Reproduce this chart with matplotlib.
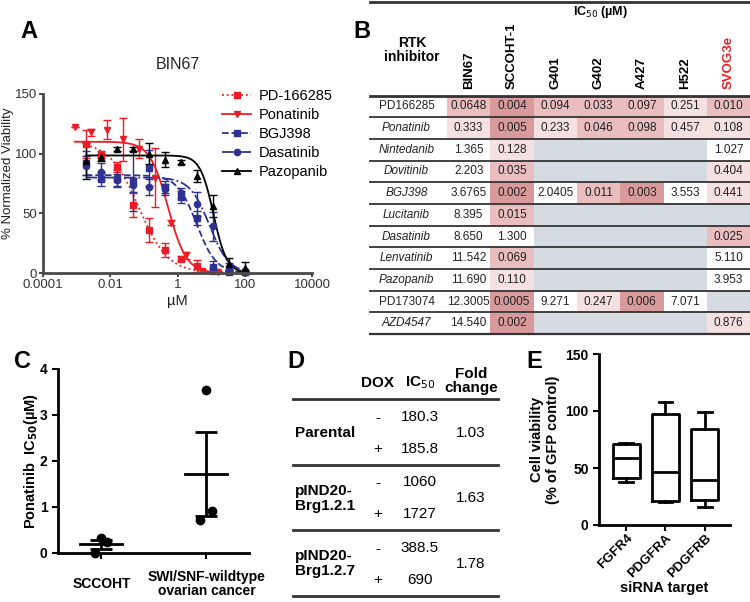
import numpy as np
import matplotlib
matplotlib.use("Agg")
import matplotlib.pyplot as plt
from matplotlib.patches import Rectangle

plt.rcParams['font.family'] = ['Liberation Sans', 'DejaVu Sans']

W, H = 750, 602
RED = '#ed1c24'
BLUE = '#2e3192'

# ---------------- data ----------------
# panel A: dose response in BIN67
conc = [0.00186, 0.00537, 0.0158, 0.0479, 0.141, 0.417, 1.23, 3.8, 11.2, 33.1, 100]
conc_pon = [0.00089, 0.0027, 0.0079, 0.024, 0.071, 0.21, 0.63, 1.8, 5.5, 15.8]

pd166285 = [108, 99, 89, 57, 36, 19, 12, 6, 2, 1.5, 1]
pd166285_err = [12, 3, 4, 10, 10, 6, 2, 5, 2, 1, 1]
ponatinib = [122, 118, 120, 112, 104, 80, 42, 15, 2, 1]
ponatinib_err = [0, 3, 8, 18, 8, 25, 2, 3, 1, 1]
bgj398 = [92, 79, 79, 77, 88, 72, 64, 46, 5, 0.5, 1]
bgj398_err = [10, 6, 7, 25, 15, 5, 5, 6, 5, 1, 1]
dasatinib = [90, 85, 78, 74, 72, 70, 67, 58, 39, 5, 1]
dasatinib_err = [8, 7, 5, 6, 7, 5, 4, 10, 12, 3, 1]
pazopanib = [94, 97, 104, 104, 100, 95, 93, 81, 56, 7.5, 4]
pazopanib_err = [15, 3, 2, 2, 9, 6, 2, 5, 9, 5, 5]

# 4-parameter fit (top, log10 IC50, hill) used for the fitted curves
fit_pd166285 = (110, -1.15, 1.0)
fit_ponatinib = (110, -0.28, 1.6)
fit_bgj398 = (82, 0.57, 1.5)
fit_dasatinib = (80, 0.95, 1.5)
fit_pazopanib = (98.5, 1.07, 2.2)

# panel B: IC50 table (None = not tested)
cell_lines = ['BIN67', 'SCCOHT-1', 'G401', 'G402', 'A427', 'H522', 'SVOG3e']
inhibitors = ['PD166285', 'Ponatinib', 'Nintedanib', 'Dovitinib', 'BGJ398', 'Lucitanib',
              'Dasatinib', 'Lenvatinib', 'Pazopanib', 'PD173074', 'AZD4547']
italic_rows = [False, True, True, True, True, True, True, True, True, False, True]
ic50_table = [
    ['0.0648', '0.004', '0.094', '0.033', '0.097', '0.251', '0.010'],
    ['0.333', '0.005', '0.233', '0.046', '0.098', '0.457', '0.108'],
    ['1.365', '0.128', None, None, None, None, '1.027'],
    ['2.203', '0.035', None, None, None, None, '0.404'],
    ['3.6765', '0.002', '2.0405', '0.011', '0.003', '3.553', '0.441'],
    ['8.395', '0.015', None, None, None, None, None],
    ['8.650', '1.300', None, None, None, None, '0.025'],
    ['11.542', '0.069', None, None, None, None, '5.110'],
    ['11.690', '0.110', None, None, None, None, '3.953'],
    ['12.3005', '0.0005', '9.271', '0.247', '0.006', '7.071', None],
    ['14.540', '0.002', None, None, None, None, '0.876'],
]

# panel C
groups_c = ['SCCOHT', 'SWI/SNF-wildtype\novarian cancer']
sccoht_ic50 = [0.33, 0.23, 0.01]
wildtype_ic50 = [3.54, 0.91, 0.72]

# panel D
d_lines = ['Parental', 'pIND20-\nBrg1.2.1', 'pIND20-\nBrg1.2.7']
d_minus = ['180.3', '1060', '388.5']
d_plus = ['185.8', '1727', '690']
d_fold = ['1.03', '1.63', '1.78']

# panel E: box stats (min, q1, median, q3, max)
targets = ['FGFR4', 'PDGFRA', 'PDGFRB']
e_min = [37.4, 20.5, 15.5]
e_q1 = [41, 21, 21.6]
e_med = [59, 46.2, 39.5]
e_q3 = [71, 97.4, 84.2]
e_max = [72.2, 108, 98.8]


def rect(l, t, r, b):
    return [l / W, (H - b) / H, (r - l) / W, (b - t) / H]


def curve(c, top, logic, hill):
    return top / (1 + 10 ** (hill * (np.log10(c) - logic)))


fig = plt.figure(figsize=(7.5, 6.02), dpi=100)

# overlay axes in pixel coordinates for the tables and panel letters
ov = fig.add_axes([0, 0, 1, 1])
ov.set_xlim(0, W)
ov.set_ylim(H, 0)
ov.axis('off')

for letter, x, y in [('A', 20, 31), ('B', 353, 32), ('C', 14, 361), ('D', 287, 362), ('E', 526, 362)]:
    ov.text(x, y, letter, fontsize=17, fontweight='bold', ha='left', va='center')

# ---------------- A ----------------
axA = fig.add_axes(rect(43, 94, 312, 273))
series = [
    ('PD-166285', conc, pd166285, pd166285_err, fit_pd166285, RED, 's', ':'),
    ('Ponatinib', conc_pon, ponatinib, ponatinib_err, fit_ponatinib, RED, 'v', '-'),
    ('BGJ398', conc, bgj398, bgj398_err, fit_bgj398, BLUE, 's', '--'),
    ('Dasatinib', conc, dasatinib, dasatinib_err, fit_dasatinib, BLUE, 'o', '-.'),
    ('Pazopanib', conc, pazopanib, pazopanib_err, fit_pazopanib, 'black', '^', '-'),
]
handles = []
for name, xc, yv, ye, fit, col, mk, ls in series:
    xs = np.logspace(np.log10(xc[0]), np.log10(xc[-1]), 200)
    axA.plot(xs, curve(xs, *fit), color=col, ls=ls, lw=1.3, clip_on=False)
    axA.errorbar(xc, yv, yerr=ye, fmt=mk, color=col, ms=4.5, capsize=3, elinewidth=1, capthick=1,
                 clip_on=False)
    h, = axA.plot([], [], color=col, ls=ls, marker=mk, ms=4.5, lw=1.3)
    handles.append(h)
axA.set_xscale('log')
axA.set_xlim(1e-4, 1e4)
axA.set_ylim(0, 150)
axA.set_xticks([1e-4, 1e-2, 1, 1e2, 1e4])
axA.set_xticklabels(['0.0001', '0.01', '1', '100', '10000'])
axA.minorticks_off()
axA.set_yticks([0, 50, 100, 150])
for s in ['top', 'right']:
    axA.spines[s].set_visible(False)
for s in ['left', 'bottom']:
    axA.spines[s].set_color('#4a4a4a')
    axA.spines[s].set_linewidth(2)
axA.tick_params(colors='#4a4a4a', labelcolor='#333333', labelsize=9.5, width=1.5, length=3, pad=1.5)
axA.set_xlabel('µM', fontsize=10.5, color='#222222', labelpad=2)
axA.set_ylabel('% Normalized Viability', fontsize=9.5, color='#222222')
axA.yaxis.set_label_coords(-0.106, 0.56)
axA.set_title('BIN67', fontsize=11.5, color='#222222', pad=18)
fig.legend(handles, [s[0] for s in series], loc='upper left', bbox_to_anchor=(222 / W, 1 - 89 / H),
           frameon=False, fontsize=10.5, handlelength=2.0, handletextpad=0.5, labelspacing=0.35,
           borderaxespad=0, borderpad=0)

# ---------------- B ----------------
name_l, col0, col_w = 370, 447, 43.3
row_top, row_h = 95.5, 21.7
ncol = len(cell_lines)
right = col0 + ncol * col_w


def shade(v):
    if v is None:
        return '#d6dae1'
    v = float(v)
    if v < 0.01:
        return '#d99a9c'
    if v < 0.1:
        return '#eabdbe'
    if v < 1:
        return '#f5e1e1'
    return 'white'


for i, row in enumerate(ic50_table):
    y0 = row_top + i * row_h
    yc = y0 + row_h / 2
    ov.text((name_l + col0) / 2 - 2, yc, inhibitors[i], ha='center', va='center', fontsize=8.5,
            style='italic' if italic_rows[i] else 'normal', color='#222222')
    for j, v in enumerate(row):
        ov.add_patch(Rectangle((col0 + j * col_w, y0), col_w, row_h, facecolor=shade(v), lw=0))
        if v is not None:
            ov.text(col0 + (j + 0.5) * col_w, yc, v, ha='center', va='center', fontsize=8.5,
                    color='#222222')
    ov.plot([name_l, right], [y0 + row_h, y0 + row_h], color='#333333', lw=1.3 if i < 10 else 1.6)
ov.plot([name_l, right], [1.5, 1.5], color='#333333', lw=2)
ov.plot([name_l, right], [row_top, row_top], color='#333333', lw=2)
ov.text(600, 12, 'IC$_{50}$ (µM)', ha='center', va='center', fontsize=9, fontweight='bold')
ov.text(412, 50, 'RTK\ninhibitor', ha='center', va='center', fontsize=10, fontweight='bold',
        linespacing=1.0)
for j, cl in enumerate(cell_lines):
    ov.text(col0 + (j + 0.5) * col_w, 89, cl, rotation=90, ha='center', va='bottom', fontsize=9.5,
            fontweight='bold', color=RED if cl == 'SVOG3e' else 'black')

# ---------------- C ----------------
axC = fig.add_axes(rect(58, 369, 249, 553))
jit = [0, 0.05, -0.06]
for k, vals in enumerate([sccoht_ic50, wildtype_ic50]):
    vals = np.array(vals)
    m = vals.mean()
    sem = vals.std(ddof=1) / np.sqrt(len(vals))
    axC.scatter(k + np.array(jit), vals, s=36, color='black', zorder=3, clip_on=False)
    axC.plot([k - 0.2, k + 0.2], [m, m], color='black', lw=2)
    axC.errorbar([k], [m], yerr=[sem], fmt='none', ecolor='black', elinewidth=2, capsize=8,
                 capthick=2)
axC.set_xlim(-0.413, 1.405)
axC.set_ylim(0, 4)
axC.set_yticks([0, 1, 2, 3, 4])
axC.set_xticks([0, 1])
axC.set_xticklabels(groups_c)
for s in ['top', 'right']:
    axC.spines[s].set_visible(False)
for s in ['left', 'bottom']:
    axC.spines[s].set_linewidth(2)
axC.tick_params(labelsize=10, width=1.5, length=4)
for t in axC.get_xticklabels() + axC.get_yticklabels():
    t.set_fontweight('bold')
for t in axC.get_xticklabels():
    t.set_verticalalignment('center')
    t.set_linespacing(1.0)
axC.tick_params(axis='x', pad=18)
axC.set_ylabel('Ponatinib  IC$_{\\mathbf{50}}$(µM)', fontsize=10.5, fontweight='bold', labelpad=0)

# ---------------- D ----------------
d_left, d_right = 293, 498
ov.text(378, 383, 'DOX', ha='center', va='center', fontsize=11, fontweight='bold')
ov.text(420, 383, 'IC$_{50}$', ha='center', va='center', fontsize=11, fontweight='bold')
ov.text(471, 381, 'Fold\nchange', ha='center', va='center', fontsize=11, fontweight='bold',
        linespacing=1.0)
d_top, d_h = 399, 65.5
ov.plot([d_left, d_right], [d_top, d_top], color='#333333', lw=2)
for i in range(len(d_lines)):
    y0 = d_top + i * d_h
    yc = y0 + d_h / 2 + 1
    ov.text(295, yc, d_lines[i], ha='left', va='center', fontsize=11, fontweight='bold',
            linespacing=1.05)
    ov.text(378, yc - 15, '-', ha='center', va='center', fontsize=11)
    ov.text(378, yc + 16, '+', ha='center', va='center', fontsize=11)
    ov.text(420, yc - 16, d_minus[i], ha='center', va='center', fontsize=11)
    ov.text(420, yc + 16, d_plus[i], ha='center', va='center', fontsize=11)
    ov.text(471, yc, d_fold[i], ha='center', va='center', fontsize=11)
    ov.plot([d_left, d_right], [y0 + d_h, y0 + d_h], color='#333333', lw=2)

# ---------------- E ----------------
axE = fig.add_axes(rect(599, 354, 730, 525))
stats = [dict(whislo=a, q1=b, med=c, q3=d, whishi=e, label=t)
         for a, b, c, d, e, t in zip(e_min, e_q1, e_med, e_q3, e_max, targets)]
axE.bxp(stats, positions=range(len(targets)), widths=0.68, showfliers=False,
        boxprops=dict(lw=2), medianprops=dict(color='black', lw=2),
        whiskerprops=dict(lw=2), capprops=dict(lw=2), capwidths=0.34)
axE.set_xlim(-0.69, 2.64)
axE.set_ylim(0, 150)
axE.set_yticks([0, 50, 100, 150])
axE.set_xticks(range(len(targets)))
axE.set_xticklabels(targets, rotation=45, ha='right', rotation_mode='anchor')
for s in ['top', 'right']:
    axE.spines[s].set_visible(False)
for s in ['left', 'bottom']:
    axE.spines[s].set_linewidth(2)
axE.tick_params(labelsize=10, width=1.5, length=4)
axE.tick_params(axis='x', labelsize=9.5, pad=1)
for t in axE.get_xticklabels() + axE.get_yticklabels():
    t.set_fontweight('bold')
axE.set_ylabel('Cell viability\n(% of GFP control)', fontsize=10.5, fontweight='bold', labelpad=4)
axE.set_xlabel('siRNA target', fontsize=10.5, fontweight='bold', labelpad=1)

fig.savefig('out.png', dpi=100)
